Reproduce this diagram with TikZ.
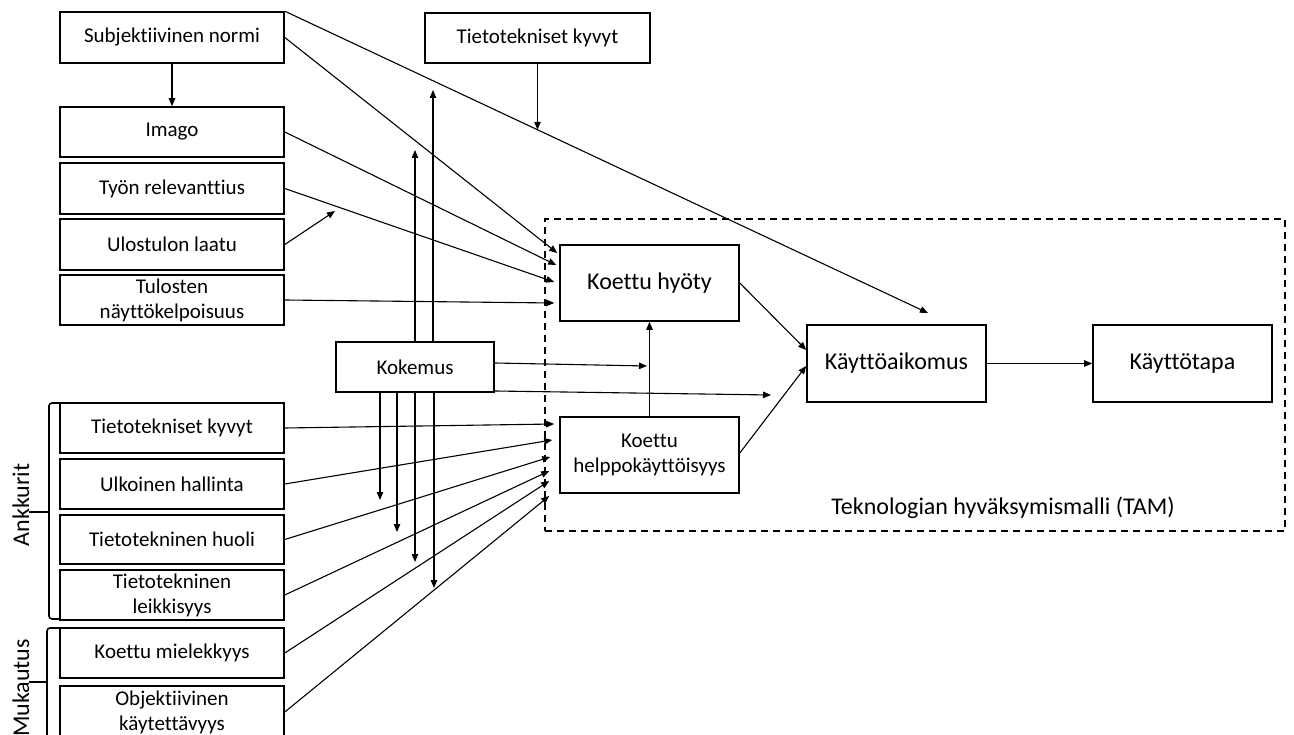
\documentclass[tikz,border=0pt]{standalone}
\usepackage{fontspec}
\setmainfont{Carlito}[Ligatures=NoCommon]
\usetikzlibrary{arrows.meta,calc}
\tikzset{
  box/.style={draw, line width=1.6pt, inner sep=0pt, align=center, font=\fontsize{21}{25}\selectfont},
  bigbox/.style={box, font=\fontsize{24}{28}\selectfont},
  conn/.style={line width=1.1pt, -{Triangle[length=8pt,width=6.5pt]}},
  brace/.style={line width=1.6pt, rounded corners=3pt},
  biglabel/.style={inner sep=0pt, font=\fontsize{24}{28}\selectfont},
  tamframe/.style={draw, line width=1.6pt, dash pattern=on 7pt off 5pt, inner sep=0pt},
}
\begin{document}
\begin{tikzpicture}[x=1pt,y=-1pt]
\useasboundingbox (0,0) rectangle (1294,735);
% TAM frame
\node[tamframe, minimum width=740, minimum height=312] (tam) at (915,375) {};
\node[biglabel] (tamlbl) at (1003,508) {Teknologian hyväksymismalli (TAM)};
% left column
\node[box, minimum width=224, minimum height=51] (subj) at (172,37.5) {Subjektiivinen normi};
\node[box, minimum width=224, minimum height=50] (imago) at (172,132) {Imago};
\node[box, minimum width=224, minimum height=51] (tyon) at (172,188.5) {Työn relevanttius};
\node[box, minimum width=224, minimum height=51] (ulos) at (172,244.5) {Ulostulon laatu};
\node[box, minimum width=224, minimum height=50] (tulos) at (172,300) {Tulosten\\näyttökelpoisuus};
\node[box, minimum width=224, minimum height=50] (tk) at (172,428) {Tietotekniset kyvyt};
\node[box, minimum width=224, minimum height=50] (ulk) at (172,484) {Ulkoinen hallinta};
\node[box, minimum width=224, minimum height=49] (huoli) at (172,539.5) {Tietotekninen huoli};
\node[box, minimum width=224, minimum height=50] (leik) at (172,595) {Tietotekninen\\leikkisyys};
\node[box, minimum width=224, minimum height=50] (miel) at (172,653) {Koettu mielekkyys};
\node[box, minimum width=224, minimum height=52] (obj) at (172,712) {Objektiivinen\\käytettävyys};
% other boxes
\node[box, minimum width=225, minimum height=50] (tk2) at (537.5,38) {Tietotekniset kyvyt};
\node[box, minimum width=158, minimum height=50] (kok) at (415,367) {Kokemus};
\node[bigbox, minimum width=179, minimum height=76] (hyoty) at (649.5,283) {Koettu hyöty};
\node[box, minimum width=179, minimum height=76] (helppo) at (649.5,455) {Koettu\\helppokäyttöisyys};
\node[bigbox, minimum width=179, minimum height=77] (kayt) at (896.5,363.5) {Käyttöaikomus};
\node[bigbox, minimum width=179, minimum height=77] (tapa) at (1182.5,363.5) {Käyttötapa};
% brackets
\draw[brace] (60,403) -- (49,403) -- (49,619) -- (60,619);
\draw[line width=1.6pt] (49,512) -- (29,512);
\draw[brace] (60,628) -- (47,628) -- (47,760);
\draw[line width=1.6pt] (47,682) -- (29,682);
\node[biglabel, rotate=90] (ank) at (21,505) {Ankkurit};
\node[biglabel, rotate=90] (muk) at (21,688) {Mukautus};
% coordinates for free ends
\coordinate (clong) at (928,313);
\coordinate (cl) at ($(subj.north east)!0.3929!(clong)$);
\coordinate (mod1) at (335,211);
\coordinate (u1) at (415,150);
\coordinate (u2) at (433,90);
\coordinate (d1) at (380,500);
\coordinate (d2) at (397,532);
\coordinate (d3) at (415,562);
\coordinate (d4) at (434,588);
\coordinate (k1) at (647,366);
\coordinate (k2) at (771,395);
% connectors
\draw[conn] (subj.south) -- (imago.north);
\draw[conn] (subj.north east) -- (clong);
\draw[conn] (tk2.south) -- (tk2.south |- cl);
\draw[conn] (subj.east) -- ([xshift=-2pt,yshift=30pt]hyoty.west);
\draw[conn] (imago.east) -- ([xshift=-3pt,yshift=18pt]hyoty.west);
\draw[conn] (tyon.east) -- ([xshift=-5pt,yshift=1pt]hyoty.west);
\draw[conn] (tulos.east) -- ([xshift=-5pt,yshift=-20pt]hyoty.west);
\draw[conn] (ulos.east) -- (mod1);
\draw[conn] (tk.east) -- ([xshift=-5pt,yshift=31pt]helppo.west);
\draw[conn] (ulk.east) -- ([xshift=-7pt,yshift=15pt]helppo.west);
\draw[conn] (huoli.east) -- ([xshift=-9pt,yshift=-2pt]helppo.west);
\draw[conn] (leik.east) -- ([xshift=-10pt,yshift=-16pt]helppo.west);
\draw[conn] (miel.east) -- ([xshift=-10pt,yshift=-26pt]helppo.west);
\draw[conn] (obj.east) -- ([xshift=-10pt,yshift=-41pt]helppo.west);
\draw[conn] (u1 |- kok.north) -- (u1);
\draw[conn] (u2 |- kok.north) -- (u2);
\draw[conn] (d1 |- kok.south) -- (d1);
\draw[conn] (d2 |- kok.south) -- (d2);
\draw[conn] (d3 |- kok.south) -- (d3);
\draw[conn] (d4 |- kok.south) -- (d4);
\draw[conn] ([yshift=4pt]kok.east) -- (k1);
\draw[conn] ([yshift=-24pt]kok.east) -- (k2);
\draw[conn] (helppo.north) -- (hyoty.south);
\draw[conn] (hyoty.east) -- ([yshift=13.5pt]kayt.west);
\draw[conn] ([yshift=2pt]helppo.east) -- ([yshift=-2.5pt]kayt.west);
\draw[conn] (kayt.east) -- (tapa.west);
\end{tikzpicture}
\end{document}
